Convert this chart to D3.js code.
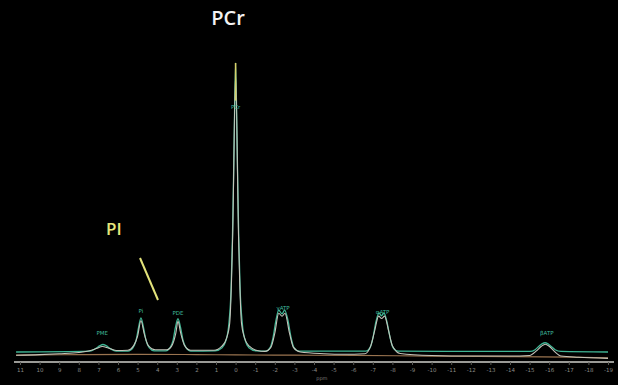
<!DOCTYPE html>
<html>
<head>
<meta charset="utf-8">
<script src="https://cdn.jsdelivr.net/npm/d3@7"></script>
<style>
  html, body { margin: 0; padding: 0; background: #000; }
  svg { display: block; }
</style>
</head>
<body>
<div id="chart"></div>
<script>
// ppm ticks along the bottom
const tickValues = d3.range(11, -20, -1);

// fitted spectrum (green): chemical shift (ppm) and intensity (PCr = 100)
const fitPpm = [11.2, 7.43, 7.14, 6.92, 6.77, 6.61, 6.4, 6.1,
  5.49, 5.23, 5.08, 4.95, 4.83, 4.7, 4.57, 4.41, 4.16,
  3.55, 3.35, 3.19, 3.07, 2.94, 2.81, 2.68, 2.53, 2.28,
  1.05, 0.69, 0.49, 0.34, 0.23, 0.16, 0.08, 0, -0.08, -0.16, -0.23, -0.34, -0.49, -0.68, -1.04,
  -1.55, -1.76, -1.91, -2.06, -2.2, -2.37, -2.5, -2.67, -2.83, -2.98, -3.23,
  -6.65, -6.86, -7.01, -7.16, -7.32, -7.44, -7.57, -7.72, -7.88, -8.03, -8.29,
  -15.02, -15.28, -15.48, -15.63, -15.79, -15.94, -16.09, -16.3, -16.6, -19];
const fitValues = [0, 0.3, 1.2, 2.2, 2.6, 2.2, 1.2, 0.3,
  0.3, 1.5, 4, 8.5, 11.8, 8.5, 4, 1.5, 0.4,
  0.4, 1.5, 4, 8.5, 11.5, 8.5, 4, 1.5, 0.3,
  0.4, 1.5, 4, 10, 22, 40, 70, 100, 70, 40, 22, 10, 4, 1.5, 0.4,
  0.3, 1.5, 5, 11, 14.5, 13.2, 14.5, 11, 5, 1.5, 0.3,
  0.3, 1.5, 5, 10.5, 13.5, 12.5, 13.5, 10.5, 5, 1.5, 0.3,
  0.2, 0.8, 2, 2.8, 3.2, 2.8, 2, 0.8, 0.2, 0];

// measured spectrum (light grey)
const rawPpm = [11.2, 10, 9, 8, 7.4, 7.1, 6.8, 6.5, 6.1,
  5.5, 5.2, 5.0, 4.83, 4.65, 4.45, 4.1,
  3.5, 3.25, 3.05, 2.94, 2.8, 2.6, 2.3,
  1.1, 0.7, 0.45, 0.3, 0.15, 0, -0.15, -0.3, -0.45, -0.7, -1.1,
  -1.5, -1.8, -2.0, -2.2, -2.37, -2.52, -2.75, -2.95, -3.3,
  -4.5, -5.5, -6.6, -6.9, -7.1, -7.3, -7.45, -7.6, -7.8, -8.0, -8.4,
  -10, -12, -14, -15.0, -15.35, -15.6, -15.8, -16.0, -16.25, -16.6, -17.5, -19];
const rawValues = [-1.1, -0.9, -0.6, -0.2, 0.5, 1.2, 1.9, 1.4, 0.5,
  0.6, 2.2, 5.5, 10.8, 6, 2.2, 0.8,
  0.8, 2.2, 6.5, 10.6, 6.5, 2.2, 0.6,
  0.6, 2.0, 5, 10, 40, 96, 40, 10, 5, 2.0, 0.5,
  0.2, 1.6, 6.5, 13.4, 12.4, 13.4, 6.5, 1.6, 0,
  -0.6, -0.8, -0.6, 2.2, 7.5, 12.4, 11.6, 12.4, 7.5, 2.2, -0.5,
  -1.2, -1.4, -1.4, -1.2, 0.4, 2.0, 2.7, 2.0, 0.3, -1.4, -1.8, -2.2];

// baseline (orange)
const basePpm = [11.2, 8, 5, 2, 0, -3, -6, -10, -14, -17, -19];
const baseValues = [-1.1, -0.9, -0.8, -0.9, -1.0, -1.1, -1.2, -1.4, -1.6, -1.8, -2.0];

// peak labels
const peakNames = ['PME', 'Pi', 'PDE', 'PCr', 'γATP', 'αATP', 'βATP'];
const peakPpm = [6.8, 4.83, 2.94, 0, -2.42, -7.5, -15.88];
const peakLabelValues = [6, 13.5, 12.8, 84, 14.5, 13.2, 6];

const width = 618, height = 385;

const svg = d3.select('#chart').append('svg')
  .attr('width', width)
  .attr('height', height)
  .style('background', '#000');

const x = d3.scaleLinear().domain([11, -19]).range([20, 608]);
const y = d3.scaleLinear().domain([0, 100]).range([352, 63]);

const line = d3.line()
  .x(d => x(d[0]))
  .y(d => y(d[1]))
  .curve(d3.curveMonotoneX);

// axis
const axis = d3.axisBottom(x)
  .tickValues(tickValues)
  .tickSize(3)
  .tickSizeOuter(0)
  .tickFormat(d => String(d));

const gx = svg.append('g')
  .attr('transform', 'translate(0,362)')
  .call(axis);
gx.select('.domain')
  .attr('stroke', '#9a9a96')
  .attr('stroke-width', 1.8)
  .attr('d', 'M' + (x(11) - 6) + ',0H' + (x(-19) + 6));
gx.selectAll('.tick line').attr('stroke', '#5a5a56');
gx.selectAll('.tick text')
  .attr('fill', '#8a8a86')
  .attr('y', 6)
  .style('font-family', 'DejaVu Sans, sans-serif')
  .style('font-size', '5.5px');

svg.append('text')
  .attr('x', x(-4.4))
  .attr('y', 380)
  .attr('text-anchor', 'middle')
  .attr('fill', '#7a7a76')
  .style('font-family', 'DejaVu Sans, sans-serif')
  .style('font-size', '5px')
  .text('ppm');

// traces
svg.append('path')
  .datum(d3.zip(basePpm, baseValues))
  .attr('fill', 'none')
  .attr('stroke', '#9a7450')
  .attr('stroke-width', 1.2)
  .attr('d', line);

svg.append('path')
  .datum(d3.zip(fitPpm, fitValues))
  .attr('fill', 'none')
  .attr('stroke', '#3fb594')
  .attr('stroke-width', 1.3)
  .attr('d', line);

svg.append('path')
  .datum(d3.zip(rawPpm, rawValues))
  .attr('fill', 'none')
  .attr('stroke', '#c4c4ba')
  .attr('stroke-width', 1.1)
  .attr('d', line);

// PCr peak tip marker
svg.append('line')
  .attr('x1', x(0)).attr('x2', x(0))
  .attr('y1', y(100)).attr('y2', y(87))
  .attr('stroke', '#d6cf6a')
  .attr('stroke-width', 1.6);

// peak labels
svg.selectAll('.peak-label')
  .data(d3.range(peakNames.length))
  .join('text')
  .attr('class', 'peak-label')
  .attr('x', i => x(peakPpm[i]))
  .attr('y', i => y(peakLabelValues[i]))
  .attr('text-anchor', 'middle')
  .attr('fill', '#3fb89a')
  .style('font-family', 'DejaVu Sans, sans-serif')
  .style('font-size', '5.5px')
  .text(i => peakNames[i]);

// annotations
svg.append('text')
  .attr('x', 228)
  .attr('y', 25)
  .attr('text-anchor', 'middle')
  .attr('fill', '#f2f2f2')
  .style('font-family', 'Open Sans, sans-serif')
  .style('font-weight', 600)
  .style('font-size', '20px')
  .text('PCr');

svg.append('text')
  .attr('x', 106)
  .attr('y', 235)
  .attr('fill', '#e6e67c')
  .style('font-family', 'Open Sans, sans-serif')
  .style('font-weight', 600)
  .style('font-size', '17px')
  .text('PI');

svg.append('line')
  .attr('x1', 140).attr('y1', 258)
  .attr('x2', 158).attr('y2', 300)
  .attr('stroke', '#e2e27a')
  .attr('stroke-width', 2);
</script>
</body>
</html>
